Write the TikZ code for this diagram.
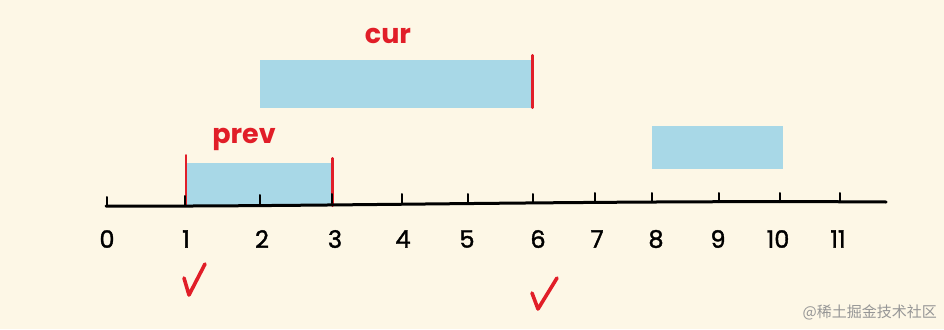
\documentclass[tikz,border=0pt]{standalone}
\usepackage{fontspec}
\setmainfont{Poppins}
\newfontfamily\digitfont[FakeBold=1.5]{Poppins}
\newfontfamily\cjk{Noto Sans CJK SC}
\definecolor{bgc}{RGB}{253,247,230}
\definecolor{barblue}{RGB}{168,216,231}
\definecolor{penred}{RGB}{225,30,40}
\definecolor{wmgray}{RGB}{150,150,150}
\tikzset{
  bluebar/.style={fill=barblue, draw=none, inner sep=0pt},
  redline/.style={draw=penred, line width=2.6pt, line cap=round},
  axisline/.style={draw=black, line width=3pt, line cap=round},
  tickline/.style={draw=black, line width=2pt, line cap=round},
  ticklabel/.style={font=\digitfont\fontsize{24}{24}\selectfont, text=black, inner sep=0pt},
  redlabel/.style={font=\fontsize{27}{27}\selectfont\bfseries, text=penred, inner sep=0pt},
  checkmark/.style={draw=penred, line width=3.6pt, line cap=round, line join=round}
}
\begin{document}
\begin{tikzpicture}[x=1pt,y=-1pt]
\fill[bgc] (0,0) rectangle (944,329);
\useasboundingbox (0,0) rectangle (944,329);

% bars
\node[bluebar, minimum width=146pt, minimum height=43pt] (prev) at (259,184) {};
\node[bluebar, minimum width=272pt, minimum height=47pt] (cur) at (396,84) {};
\node[bluebar, minimum width=131pt, minimum height=43pt] (other) at (717.5,147) {};

% red borders
\draw[redline] ([yshift=7pt]prev.north west) -- (prev.south west);
\draw[redline] ([yshift=4pt]prev.north east) -- (prev.south east);
\draw[redline] ([yshift=5pt]cur.north east) -- (cur.south east);

% labels
\node[redlabel] (curlabel) at (388,36) {cur};
\node[redlabel] (prevlabel) at (244,139) {prev};

% axis
\coordinate (axL) at (106,206);
\coordinate (axR) at (886,202);
\draw[axisline] (axL) .. controls (300,207) and (600,200) .. (axR);

\foreach \i/\x/\lx/\ty in {0/107/107/206,1/185/186/205,2/260/262/204,3/332/335/203,4/402/403/203,5/468/467/203,6/533/538/203,7/595/597/202,8/652/656/202,9/719/718/202,10/780/778/202,11/840/838/202}{
  \draw[tickline] (\x,\ty) -- (\x,\ty-9);
  \node[ticklabel] (t\i) at (\lx,239) {\i};
}

% check marks
\coordinate (c1a) at (184,278);
\coordinate (c1b) at (189,295);
\coordinate (c1c) at (205,264);
\draw[checkmark] (c1a) -- (c1b) -- (c1c);
\coordinate (c2a) at (532,293);
\coordinate (c2b) at (538,309);
\coordinate (c2c) at (557,278);
\draw[checkmark] (c2a) -- (c2b) -- (c2c);

% watermark
\node[anchor=east, text=wmgray, font=\cjk\fontsize{15}{15}\selectfont, inner sep=0pt] (wm) at (937,312) {@稀土掘金技术社区};
\end{tikzpicture}
\end{document}
